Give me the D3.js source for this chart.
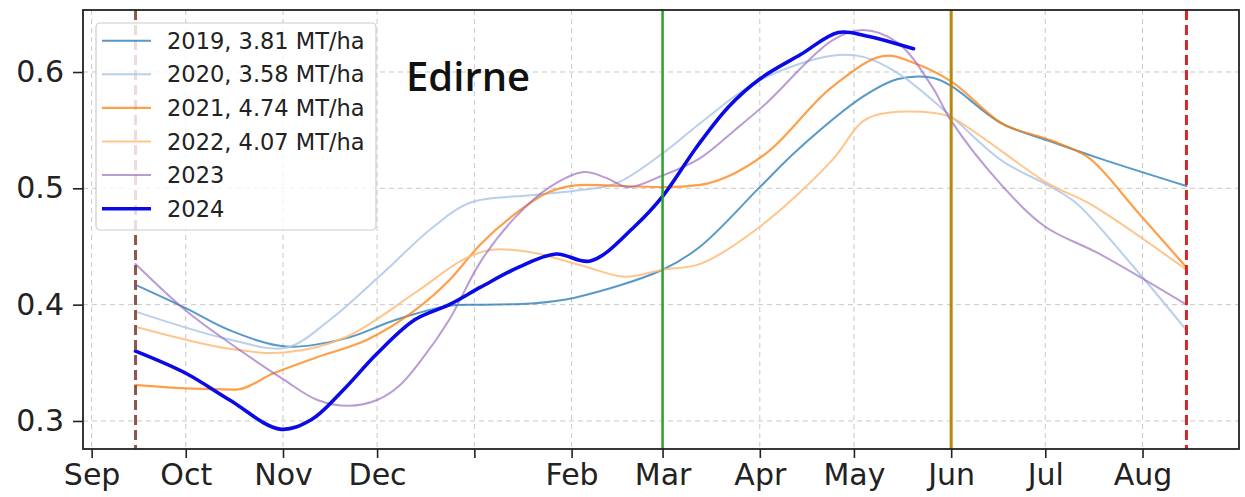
<!DOCTYPE html>
<html>
<head>
<meta charset="utf-8">
<script src="https://cdn.jsdelivr.net/npm/d3@7"></script>
<style>
  body { margin: 0; background: #fff; }
  svg { display: block; }
</style>
</head>
<body>
<svg id="chart" width="1245" height="497"></svg>
<script>
// ---- data ----
const monthTicks = ["2023-09-01","2023-10-01","2023-11-01","2023-12-01","2024-01-01","2024-02-01",
                    "2024-03-01","2024-04-01","2024-05-01","2024-06-01","2024-07-01","2024-08-01"];
const monthLabels = ["Sep","Oct","Nov","Dec","","Feb","Mar","Apr","May","Jun","Jul","Aug"];
const yTicks = [0.3, 0.4, 0.5, 0.6];

const seriesLabels = ["2019, 3.81 MT/ha","2020, 3.58 MT/ha","2021, 4.74 MT/ha","2022, 4.07 MT/ha","2023","2024"];

const series2019 = [["2023-09-15",0.417],["2023-10-01",0.397],["2023-10-15",0.378],["2023-11-02",0.364],
  ["2023-11-21",0.371],["2023-12-07",0.387],["2023-12-24",0.399],["2024-01-03",0.400],["2024-01-19",0.401],
  ["2024-02-02",0.406],["2024-03-01",0.430],["2024-03-13",0.450],["2024-04-01",0.501],["2024-04-13",0.533],
  ["2024-05-04",0.579],["2024-05-15",0.594],["2024-05-26",0.595],["2024-06-01",0.588],["2024-06-17",0.556],
  ["2024-07-03",0.540],["2024-07-18",0.526],["2024-08-15",0.502]];

const series2020 = [["2023-09-15",0.394],["2023-10-15",0.370],["2023-11-02",0.363],["2023-11-16",0.387],
  ["2023-12-02",0.425],["2023-12-19",0.467],["2023-12-31",0.488],["2024-01-19",0.494],["2024-02-02",0.498],
  ["2024-02-15",0.504],["2024-03-01",0.530],["2024-03-13",0.556],["2024-04-01",0.593],["2024-04-24",0.614],
  ["2024-05-04",0.613],["2024-05-15",0.599],["2024-06-01",0.562],["2024-06-17",0.524],["2024-07-03",0.501],
  ["2024-07-11",0.487],["2024-07-29",0.433],["2024-08-15",0.378]];

const series2021 = [["2023-09-15",0.331],["2023-10-01",0.328],["2023-10-17",0.327],["2023-10-29",0.341],
  ["2023-11-12",0.355],["2023-11-28",0.370],["2023-12-13",0.395],["2023-12-24",0.421],["2024-01-03",0.452],
  ["2024-01-14",0.478],["2024-01-25",0.497],["2024-02-05",0.503],["2024-03-01",0.501],["2024-03-13",0.503],
  ["2024-03-24",0.513],["2024-04-03",0.530],["2024-04-24",0.587],["2024-05-12",0.614],["2024-05-20",0.608],
  ["2024-06-01",0.592],["2024-06-17",0.556],["2024-07-03",0.541],["2024-07-15",0.526],["2024-07-30",0.481],
  ["2024-08-15",0.432]];

const series2022 = [["2023-09-15",0.381],["2023-10-15",0.362],["2023-11-02",0.359],["2023-11-21",0.372],
  ["2023-12-13",0.410],["2023-12-28",0.438],["2024-01-06",0.447],["2024-01-19",0.445],["2024-02-05",0.433],
  ["2024-02-18",0.424],["2024-03-01",0.430],["2024-03-13",0.435],["2024-04-01",0.467],["2024-04-24",0.524],
  ["2024-05-04",0.558],["2024-05-12",0.565],["2024-05-26",0.565],["2024-06-01",0.561],["2024-07-02",0.504],
  ["2024-07-15",0.487],["2024-08-15",0.430]];

const series2023 = [["2023-09-15",0.435],["2023-10-01",0.395],["2023-10-15",0.367],["2023-11-01",0.336],
  ["2023-11-12",0.318],["2023-11-22",0.313],["2023-12-01",0.318],["2023-12-08",0.330],["2023-12-15",0.352],
  ["2023-12-24",0.387],["2024-01-03",0.437],["2024-01-14",0.475],["2024-01-25",0.501],["2024-02-05",0.514],
  ["2024-02-12",0.509],["2024-02-19",0.501],["2024-03-01",0.511],["2024-03-13",0.526],["2024-03-24",0.550],
  ["2024-04-03",0.573],["2024-04-24",0.627],["2024-05-04",0.636],["2024-05-15",0.625],["2024-05-26",0.587],
  ["2024-06-01",0.558],["2024-06-17",0.503],["2024-07-01",0.467],["2024-07-18",0.444],["2024-08-15",0.400]];

const series2024 = [["2023-09-15",0.360],["2023-10-01",0.341],["2023-10-15",0.318],["2023-10-31",0.293],
  ["2023-11-10",0.301],["2023-11-20",0.326],["2023-12-01",0.358],["2023-12-13",0.387],["2023-12-24",0.400],
  ["2024-01-03",0.415],["2024-01-15",0.432],["2024-01-27",0.4435],["2024-02-07",0.4375],["2024-02-21",0.467],
  ["2024-03-01",0.493],["2024-03-12",0.536],["2024-03-22",0.570],["2024-04-01",0.594],["2024-04-14",0.615],
  ["2024-04-26",0.634],["2024-05-05",0.631],["2024-05-20",0.620]];

const allSeries = [series2019, series2020, series2021, series2022, series2023, series2024];

// marker dates: season start, two stage boundaries, season end
const markerDates = ["2023-09-15","2024-03-01","2024-06-01","2024-08-15"];

const stationName = "Edirne";

// ---- styles ----
const smooth = d3.curveCatmullRom.alpha(0.5);
const lineStyles = [
  { color: "#1f77b4", opacity: 0.75, width: 2, curve: smooth },
  { color: "#aec7e8", opacity: 0.85, width: 2, curve: smooth },
  { color: "#ff7f0e", opacity: 0.75, width: 2.2, curve: d3.curveMonotoneX },
  { color: "#ffbb78", opacity: 0.85, width: 2, curve: smooth },
  { color: "#9467bd", opacity: 0.65, width: 2, curve: smooth },
  { color: "#0a0ae6", opacity: 1.0, width: 3.6, curve: smooth }
];
const markerStyles = [
  { color: "#8c564b", dash: "10,5", width: 3 },
  { color: "#2ca02c", dash: null, width: 2.5 },
  { color: "#b8860b", dash: null, width: 3 },
  { color: "#d62728", dash: "10,5", width: 3 }
];

// ---- layout ----
const margin = { left: 83, right: 1239, top: 10, bottom: 449 };
const parse = d3.utcParse("%Y-%m-%d");
const svg = d3.select("#chart");

const x = d3.scaleUtc()
  .domain([new Date(Date.UTC(2023, 7, 29, 6)), new Date(Date.UTC(2024, 7, 31, 18))])
  .range([margin.left, margin.right]);
const y = d3.scaleLinear()
  .domain([0.2759, 0.6533])
  .range([margin.bottom, margin.top]);

const tickDates = monthTicks.map(parse);

// grid
const grid = svg.append("g").attr("stroke", "#b0b0b0").attr("stroke-opacity", 0.7)
  .attr("stroke-width", 1).attr("stroke-dasharray", "5,4");
grid.selectAll("line.gx").data(tickDates).join("line")
  .attr("x1", d => x(d)).attr("x2", d => x(d))
  .attr("y1", margin.top).attr("y2", margin.bottom);
grid.selectAll("line.gy").data(yTicks).join("line")
  .attr("y1", d => y(d)).attr("y2", d => y(d))
  .attr("x1", margin.left).attr("x2", margin.right);

// series
svg.append("g").selectAll("path").data(allSeries).join("path")
  .attr("fill", "none")
  .attr("stroke", (d, i) => lineStyles[i].color)
  .attr("stroke-opacity", (d, i) => lineStyles[i].opacity)
  .attr("stroke-width", (d, i) => lineStyles[i].width)
  .attr("stroke-linejoin", "round")
  .attr("stroke-linecap", "round")
  .attr("d", (d, i) => d3.line()
    .x(p => x(parse(p[0])))
    .y(p => y(p[1]))
    .curve(lineStyles[i].curve)(d));

// vertical markers
svg.append("g").selectAll("line").data(markerDates).join("line")
  .attr("x1", d => x(parse(d))).attr("x2", d => x(parse(d)))
  .attr("y1", margin.top).attr("y2", margin.bottom)
  .attr("stroke", (d, i) => markerStyles[i].color)
  .attr("stroke-width", (d, i) => markerStyles[i].width)
  .attr("stroke-dasharray", (d, i) => markerStyles[i].dash);

// axes
const fontAxis = "DejaVu Sans, sans-serif";
const xAxis = d3.axisBottom(x).tickValues(tickDates)
  .tickFormat((d, i) => monthLabels[i]).tickSize(9).tickPadding(6);
const gx = svg.append("g").attr("transform", `translate(0,${margin.bottom})`).call(xAxis);
const yAxis = d3.axisLeft(y).tickValues(yTicks).tickFormat(d3.format(".1f")).tickSize(10).tickPadding(9);
const gy = svg.append("g").attr("transform", `translate(${margin.left},0)`).call(yAxis);
[gx, gy].forEach(g => {
  g.select(".domain").remove();
  g.selectAll(".tick line").attr("stroke", "#222").attr("stroke-width", 1.6);
  g.selectAll(".tick text").attr("font-family", fontAxis).attr("font-size", 30).attr("fill", "#222");
});

// frame
svg.append("rect")
  .attr("x", margin.left).attr("y", margin.top)
  .attr("width", margin.right - margin.left).attr("height", margin.bottom - margin.top)
  .attr("fill", "none").attr("stroke", "#222").attr("stroke-width", 1.8);

// station name
svg.append("text")
  .attr("x", 406).attr("y", 91)
  .attr("font-family", "Open Sans, sans-serif").attr("font-weight", 600)
  .attr("font-size", 40).attr("fill", "#111")
  .text(stationName);

// legend
const legend = svg.append("g");
legend.append("rect")
  .attr("x", 96).attr("y", 23).attr("width", 280).attr("height", 207)
  .attr("rx", 4).attr("fill", "#fff").attr("fill-opacity", 0.8)
  .attr("stroke", "#cccccc").attr("stroke-width", 1.2);
const rowY = i => 40.7 + i * 33.6;
const items = legend.selectAll("g.item").data(seriesLabels).join("g").attr("class", "item");
items.append("line")
  .attr("x1", 102).attr("x2", 151)
  .attr("y1", (d, i) => rowY(i)).attr("y2", (d, i) => rowY(i))
  .attr("stroke", (d, i) => lineStyles[i].color)
  .attr("stroke-opacity", (d, i) => lineStyles[i].opacity)
  .attr("stroke-width", (d, i) => lineStyles[i].width);
items.append("text")
  .attr("x", 167).attr("y", (d, i) => rowY(i))
  .attr("dy", "0.36em")
  .attr("font-family", fontAxis).attr("font-size", 22.5).attr("fill", "#222")
  .text(d => d);
</script>
</body>
</html>
